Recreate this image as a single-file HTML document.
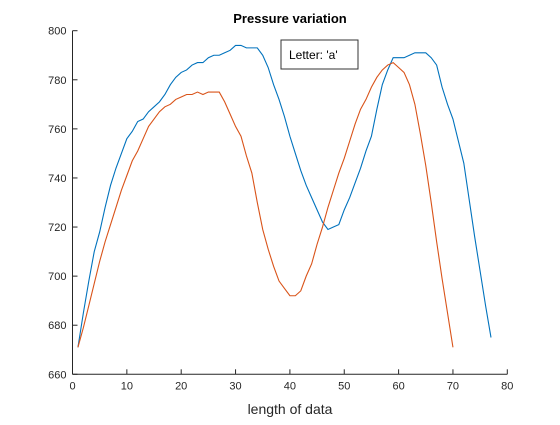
<!DOCTYPE html>
<html><head><meta charset="utf-8"><style>
body{margin:0;background:#fff;}
svg text{font-family:"Liberation Sans",Arial,sans-serif;}
</style></head><body>
<svg id="chart" width="560" height="420" xmlns="http://www.w3.org/2000/svg">
<rect width="560" height="420" fill="#fff"/>
<text x="290" y="23" text-anchor="middle" font-size="13" font-weight="bold" fill="#000">Pressure variation</text>
<g id="axes"></g>
<g id="series"></g>
<g>
<rect x="281" y="40" width="77" height="29" fill="#fff" stroke="#333" stroke-width="1"/>
<text x="289" y="59" font-size="12" fill="#000">Letter: 'a'</text>
</g>
<text x="290" y="414" text-anchor="middle" font-size="14" fill="#262626">length of data</text>
</svg>
<script>
const xTicks=[0,10,20,30,40,50,60,70,80];
const yTicks=[660,680,700,720,740,760,780,800];
const blueValues=[671,685,698,710,718,728,737,744,750,756,759,763,764,767,769,771,774,778,781,783,784,786,787,787,789,790,790,791,792,794,794,793,793,793,790,785,778,772,765,757,750,743,737,732,727,722,719,720,721,727,732,738,744,751,757,768,778,784,789,789,789,790,791,791,791,789,786,777,770,764,755,746,731,716,702,688,675];
const redValues=[671,679,688,697,706,714,721,728,735,741,747,751,756,761,764,767,769,770,772,773,774,774,775,774,775,775,775,771,766,761,757,749,742,730,719,711,704,698,695,692,692,694,700,705,713,720,728,735,742,748,755,762,768,772,777,781,784,786,787,785,783,778,770,758,745,730,714,699,685,671];
const NS="http://www.w3.org/2000/svg";
const X0=72.5,X1=507.3,XMIN=0,XMAX=80;
const Y0=374.3,Y1=30.7,YMIN=660,YMAX=800;
function sx(v){return X0+(v-XMIN)/(XMAX-XMIN)*(X1-X0);}
function sy(v){return Y0-(v-YMIN)/(YMAX-YMIN)*(Y0-Y1);}
const axes=document.getElementById('axes');
function mk(t,a,p){const e=document.createElementNS(NS,t);for(const k in a)e.setAttribute(k,a[k]);p.appendChild(e);return e;}
const xa=mk('line',{x1:X0,y1:Y0,x2:X1,y2:Y0,stroke:'#262626','stroke-width':1},axes);


const ya=mk('line',{x1:X0,y1:Y0,x2:X0,y2:Y1,stroke:'#262626','stroke-width':1},axes);


xTicks.forEach(v=>{
  const x=sx(v);
  mk('line',{x1:x,y1:Y0,x2:x,y2:Y0-5,stroke:'#262626'},axes);
  const t=mk('text',{x:x,y:Y0+15,'text-anchor':'middle','font-size':11,fill:'#262626'},axes);
  t.textContent=v;
  
  
});
yTicks.forEach(v=>{
  const y=sy(v);
  mk('line',{x1:X0,y1:y,x2:X0+5,y2:y,stroke:'#262626'},axes);
  const t=mk('text',{x:X0-6,y:y+4,'text-anchor':'end','font-size':11,fill:'#262626'},axes);
  t.textContent=v;
  
  
});
const series=document.getElementById('series');
function line(vals,color,name){
  const pts=vals.map((v,i)=>sx(i+1).toFixed(2)+','+sy(v).toFixed(2)).join(' ');
  const p=mk('polyline',{points:pts,fill:'none',stroke:color,'stroke-width':1.1},series);
  
  
}
line(blueValues,'#0072BD','series-blue-line');
line(redValues,'#D95319','series-red-line');
</script>
</body></html>
